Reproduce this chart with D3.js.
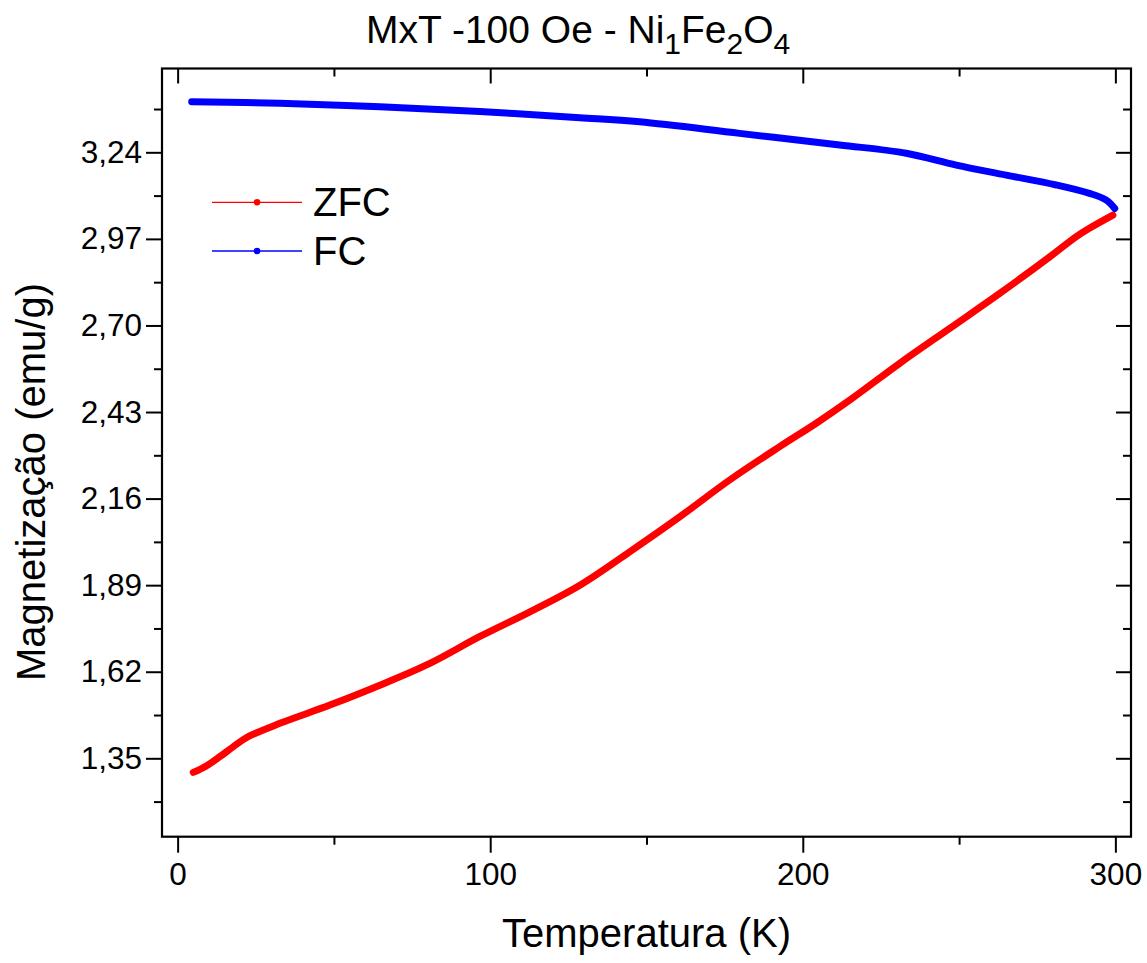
<!DOCTYPE html>
<html>
<head>
<meta charset="utf-8">
<script src="https://cdn.jsdelivr.net/npm/d3@7"></script>
<style>
  html, body { margin: 0; padding: 0; background: #fff; }
  svg { display: block; font-family: "Liberation Sans", Arial, sans-serif; }
</style>
</head>
<body>
<svg id="chart" width="1147" height="963"></svg>
<script>
// ---- data ----
const zfcT = [5.0, 9.3, 13.5, 17.8, 22.1, 32.7, 48.7, 64.7, 80.7, 96.7, 112.7, 128.7, 144.6, 160.6, 176.6, 192.6, 204.3, 215, 231, 247, 263, 279, 287.5, 291.7, 299.2];
const zfcM = [1.306, 1.327, 1.355, 1.386, 1.415, 1.459, 1.516, 1.578, 1.646, 1.730, 1.807, 1.890, 1.994, 2.103, 2.218, 2.322, 2.395, 2.467, 2.582, 2.691, 2.800, 2.914, 2.977, 3.003, 3.044];
const fcT = [4.5, 32.7, 64.7, 96.7, 128.7, 147.8, 179.8, 211.8, 233.1, 249.1, 265.1, 281.1, 291.7, 297.1, 299.8];
const fcM = [3.398, 3.393, 3.382, 3.367, 3.348, 3.335, 3.299, 3.263, 3.237, 3.200, 3.169, 3.138, 3.112, 3.091, 3.065];
const xMajorTicks = [0, 100, 200, 300];
const xMinorTicks = [50, 150, 250];
const yMajorTicks = [1.35, 1.62, 1.89, 2.16, 2.43, 2.70, 2.97, 3.24];
const yMinorTicks = [1.215, 1.485, 1.755, 2.025, 2.295, 2.565, 2.835, 3.105, 3.375];
const seriesNames = ["ZFC", "FC"];
const seriesColors = ["#ff0000", "#0000ff"];

// ---- layout ----
const L = 162, R = 1131, T = 68.5, B = 836.7;
const svg = d3.select("#chart");
const x = d3.scaleLinear().domain([-5, 305]).range([L, R]);
const y = d3.scaleLinear().domain([1.1055, 3.5014]).range([B, T]);
const fmt = d => d3.format(".2f")(d).replace(".", ",");

function styleAxis(g) {
  g.select(".domain").remove();
  g.selectAll("line").attr("stroke", "#000").attr("stroke-width", 2);
}
const fs = 31.5;
// bottom axis (outward ticks)
svg.append("g").attr("transform", `translate(0,${B})`)
  .call(d3.axisBottom(x).tickValues(xMajorTicks).tickSize(16).tickPadding(10).tickFormat(d3.format("d")))
  .call(styleAxis)
  .call(g => g.selectAll("text").attr("font-size", fs).attr("fill", "#000").attr("font-family", "Liberation Sans, Arial, sans-serif"));
svg.append("g").attr("transform", `translate(0,${B})`)
  .call(d3.axisBottom(x).tickValues(xMinorTicks).tickSize(8).tickFormat(""))
  .call(styleAxis);
// top axis (inward ticks)
svg.append("g").attr("transform", `translate(0,${T})`)
  .call(d3.axisBottom(x).tickValues(xMajorTicks).tickSize(15).tickFormat(""))
  .call(styleAxis);
svg.append("g").attr("transform", `translate(0,${T})`)
  .call(d3.axisBottom(x).tickValues(xMinorTicks).tickSize(8).tickFormat(""))
  .call(styleAxis);
// left axis (outward ticks)
svg.append("g").attr("transform", `translate(${L},0)`)
  .call(d3.axisLeft(y).tickValues(yMajorTicks).tickSize(16).tickPadding(4).tickFormat(fmt))
  .call(styleAxis)
  .call(g => g.selectAll("text").attr("font-size", fs).attr("fill", "#000").attr("font-family", "Liberation Sans, Arial, sans-serif"));
svg.append("g").attr("transform", `translate(${L},0)`)
  .call(d3.axisLeft(y).tickValues(yMinorTicks).tickSize(8).tickFormat(""))
  .call(styleAxis);
// right axis (inward ticks)
svg.append("g").attr("transform", `translate(${R},0)`)
  .call(d3.axisLeft(y).tickValues(yMajorTicks).tickSize(15).tickFormat(""))
  .call(styleAxis);
svg.append("g").attr("transform", `translate(${R},0)`)
  .call(d3.axisLeft(y).tickValues(yMinorTicks).tickSize(8).tickFormat(""))
  .call(styleAxis);

// frame
svg.append("rect").attr("x", L).attr("y", T).attr("width", R - L).attr("height", B - T)
  .attr("fill", "none").attr("stroke", "#000").attr("stroke-width", 2.2);

// curves
const line = d3.line().x(d => x(d[0])).y(d => y(d[1])).curve(d3.curveCatmullRom.alpha(0.5));
const zfc = zfcT.map((t, i) => [t, zfcM[i]]);
const fc = fcT.map((t, i) => [t, fcM[i]]);
svg.append("path").datum(zfc).attr("d", line).attr("fill", "none")
  .attr("stroke", seriesColors[0]).attr("stroke-width", 7).attr("stroke-linecap", "round").attr("stroke-linejoin", "round");
svg.append("path").datum(fc).attr("d", line).attr("fill", "none")
  .attr("stroke", seriesColors[1]).attr("stroke-width", 7).attr("stroke-linecap", "round").attr("stroke-linejoin", "round");

// legend
const legY = [202.3, 251];
seriesNames.forEach((name, i) => {
  const g = svg.append("g");
  g.append("line").attr("x1", 212).attr("x2", 302).attr("y1", legY[i]).attr("y2", legY[i])
    .attr("stroke", seriesColors[i]).attr("stroke-width", 1.3);
  g.append("circle").attr("cx", 257).attr("cy", legY[i]).attr("r", 3.3).attr("fill", seriesColors[i]);
  g.append("text").attr("x", 313).attr("y", legY[i] + 14).attr("font-size", 40).attr("fill", "#000").text(name);
});

// axis titles
svg.append("text").attr("x", (L + R) / 2).attr("y", 947).attr("text-anchor", "middle")
  .attr("font-size", 40).attr("fill", "#000").text("Temperatura (K)");
svg.append("text").attr("transform", "translate(45,482) rotate(-90)").attr("text-anchor", "middle")
  .attr("font-size", 40).attr("fill", "#000").text("Magnetização (emu/g)");

// title with subscripts
const title = svg.append("text").attr("x", 366).attr("y", 43).attr("font-size", 39).attr("fill", "#000");
const parts = [["MxT -100 Oe - Ni", false], ["1", true], ["Fe", false], ["2", true], ["O", false], ["4", true]];
parts.forEach(([t, sub]) => {
  const ts = title.append("tspan").attr("font-size", sub ? 30 : 39).text(t);
  if (sub) ts.attr("baseline-shift", "-11px");
});
</script>
</body>
</html>
